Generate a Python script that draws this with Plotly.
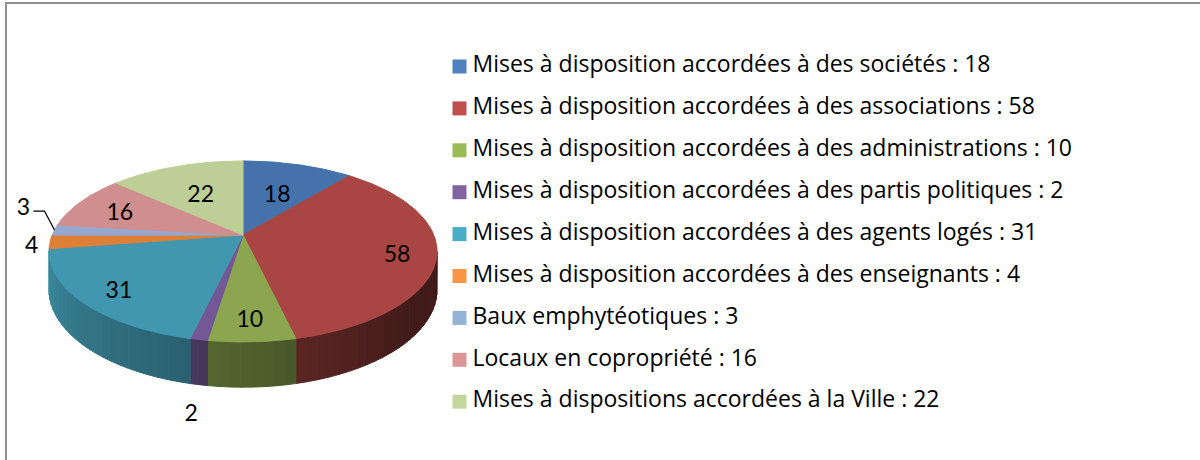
import math
import plotly.graph_objects as go

# ---------------- data ----------------
categories = [
    "Mises à disposition accordées à des sociétés",
    "Mises à disposition accordées à des associations",
    "Mises à disposition accordées à des administrations",
    "Mises à disposition accordées à des partis politiques",
    "Mises à disposition accordées à des agents logés",
    "Mises à disposition accordées à des enseignants",
    "Baux emphytéotiques",
    "Locaux en copropriété",
    "Mises à dispositions accordées à la Ville",
]
values = [18, 58, 10, 2, 31, 4, 3, 16, 22]

# ---------------- styles ----------------
BASE_COLORS = ["#4F81BD", "#C0504D", "#9BBB59", "#8064A2", "#4BACC6",
               "#F79646", "#95B3D7", "#D99694", "#C3D69B"]
TOP_COLORS = ["#4672AB", "#A94643", "#8CA650", "#735796", "#4197B0",
              "#DE7F38", "#92A9D2", "#D08E8E", "#BDCF96"]
LABEL_FONT = "Lato, Calibri, sans-serif"
LEGEND_FONT = "Open Sans, Calibri, sans-serif"
TEXT_DY = 4.5  # vertical correction for text centring

# 3D pie geometry (pixel space)
CX, CY = 243.0, 235.0
R, Q, P, D = 190.8, 87.5, 0.182, 37.0


def proj(theta_deg, f=1.0, h=0.0):
    t = math.radians(theta_deg)
    X = f * math.sin(t)
    Y = f * math.cos(t)
    s = 1.0 / (1.0 + P * Y)
    return CX + R * X * s, CY - Q * Y * s + h * s


def hexrgb(c):
    c = c.lstrip("#")
    return tuple(int(c[i:i + 2], 16) for i in (0, 2, 4))


def shade(c, k):
    r, g, b = hexrgb(c)
    return "rgb(%d,%d,%d)" % (min(255, r * k), min(255, g * k), min(255, b * k))


def side_factor(theta):
    return max(0.34, min(0.85, 0.375 + 0.00355 * (theta - 140)))


total = sum(values)
angles = []
acc = 0.0
for v in values:
    a0 = acc / total * 360.0
    acc += v
    a1 = acc / total * 360.0
    angles.append((a0, a1))

VIS_A = math.degrees(math.acos(-P))
VIS_B = 360.0 - VIS_A

fig = go.Figure()

# side walls
for i, (a0, a1) in enumerate(angles):
    lo, hi = max(a0, VIS_A), min(a1, VIS_B)
    if lo >= hi:
        continue
    n = max(1, math.ceil((hi - lo) / 3.0))
    for k in range(n):
        t0 = lo + (hi - lo) * k / n
        t1 = lo + (hi - lo) * (k + 1) / n
        ts = [t0 + (t1 - t0) * j / 6 for j in range(7)]
        top = [proj(t) for t in ts]
        bot = [proj(t, h=D) for t in reversed(ts)]
        pts = top + bot + [top[0]]
        col = shade(BASE_COLORS[i], side_factor((t0 + t1) / 2))
        fig.add_trace(go.Scatter(
            x=[p[0] for p in pts], y=[p[1] for p in pts], mode="lines",
            fill="toself", fillcolor=col, line=dict(color=col, width=1),
            hoverinfo="skip", showlegend=False))

# top faces
for i, (a0, a1) in enumerate(angles):
    n = max(2, math.ceil((a1 - a0) / 1.0))
    pts = [(CX, CY)] + [proj(a0 + (a1 - a0) * j / n) for j in range(n + 1)] + [(CX, CY)]
    fig.add_trace(go.Scatter(
        x=[p[0] for p in pts], y=[p[1] for p in pts], mode="lines",
        fill="toself", fillcolor=TOP_COLORS[i],
        line=dict(color=TOP_COLORS[i], width=1),
        name=categories[i], hoverinfo="skip", showlegend=False))

# data labels
lab_x, lab_y, lab_t = [], [], []
leader_x, leader_y = [], []
placed_out = []
for i, (a0, a1) in enumerate(angles):
    mid = (a0 + a1) / 2
    if values[i] / total >= 0.03:
        rx, ry = proj(mid)
        dx, dy = CX - rx, CY - ry
        L = math.hypot(dx, dy)
        ux, uy = dx / L, dy / L
        d = 24 + 16 * abs(ux)
        lab_x.append(rx + d * ux)
        lab_y.append(ry + d * uy + TEXT_DY)
    else:
        front = VIS_A <= mid <= VIS_B
        rx, ry = proj(mid, h=D if front else 0.0)
        dx, dy = rx - CX, ry - CY
        L = math.hypot(dx, dy)
        ux, uy = dx / L, dy / L
        d = 12 + 6 * abs(ux) + 14 * abs(uy)
        px, py = rx + d * ux, ry + d * uy
        clash = any(math.hypot(px - qx, py - qy) < 20 for qx, qy in placed_out)
        if clash:
            rx, ry = proj(mid)
            sx = -1 if ux < 0 else 1
            ex, ey = rx + sx * 10, ry - 19
            fx, fy = ex + sx * 11, ey
            leader_x += [rx, ex, fx, None]
            leader_y += [ry, ey, fy, None]
            px, py = fx + sx * 10, fy - 6
        placed_out.append((px, py))
        lab_x.append(px)
        lab_y.append(py + TEXT_DY)
    lab_t.append(str(values[i]))

if leader_x:
    fig.add_trace(go.Scatter(x=leader_x, y=leader_y, mode="lines",
                             line=dict(color="black", width=1.3),
                             hoverinfo="skip", showlegend=False))

fig.add_trace(go.Scatter(x=lab_x, y=lab_y, mode="text", text=lab_t,
                         textposition="middle center",
                         textfont=dict(family=LABEL_FONT, size=23, color="black"),
                         hoverinfo="skip", showlegend=False))

# legend (categorical axis on the right)
legend_text = ["%s : %d" % (c, v) for c, v in zip(categories, values)]
fig.add_trace(go.Scatter(x=[0] * len(categories), y=categories, mode="markers",
                         marker=dict(symbol="square", size=14, color=BASE_COLORS),
                         xaxis="x2", yaxis="y2", hoverinfo="skip", showlegend=False))
fig.add_trace(go.Scatter(x=[13] * len(categories), y=categories, mode="text",
                         text=legend_text, textposition="middle right",
                         textfont=dict(family=LEGEND_FONT, size=23, color="black"),
                         xaxis="x2", yaxis="y2", hoverinfo="skip", showlegend=False))

ROW0, ROW_STEP, H, W = 66.5, 41.9, 460, 1200
LEG_X0 = 459.5

fig.update_layout(
    width=W, height=H,
    margin=dict(l=0, r=0, t=0, b=0),
    paper_bgcolor="white", plot_bgcolor="white",
    showlegend=False,
    xaxis=dict(range=[0, W], visible=False, fixedrange=True),
    yaxis=dict(range=[H, 0], visible=False, fixedrange=True),
    xaxis2=dict(range=[-LEG_X0, W - LEG_X0], visible=False, fixedrange=True,
                overlaying="x", anchor="y2"),
    yaxis2=dict(type="category", categoryorder="array", categoryarray=categories,
                range=[(H - ROW0) / ROW_STEP, -ROW0 / ROW_STEP],
                visible=False, fixedrange=True, overlaying="y", anchor="x2"),
    shapes=[dict(type="rect", xref="x", yref="y", x0=6, y0=3, x1=W + 30, y1=H + 30,
                 line=dict(color="#8F8F8F", width=2), layer="above")],
)

fig.write_html("out.html", config={"displayModeBar": False},
               post_script="document.body.style.margin='0';")
